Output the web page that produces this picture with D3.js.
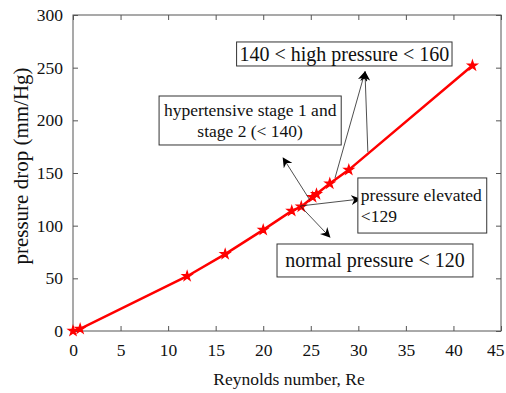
<!DOCTYPE html>
<html>
<head>
<meta charset="utf-8">
<script src="https://cdn.jsdelivr.net/npm/d3@7"></script>
<style>
  body { margin: 0; background: #fff; }
  text { font-family: "Liberation Serif", "Times New Roman", serif; fill: #111; }
</style>
</head>
<body>
<div id="chart"></div>
<script>
// data
var reynolds = [0, 0.75, 12, 16, 20, 23, 24, 25.2, 25.6, 27, 29, 42];
var pressureDrop = [0, 2, 52, 73, 96, 114, 118, 127, 130, 140, 153, 252];
var xTicks = [0, 5, 10, 15, 20, 25, 30, 35, 40, 45];
var yTicks = [0, 50, 100, 150, 200, 250, 300];

// annotation boxes (data coords: x0, y0 top, x1, y1 bottom) and their text
var boxLines = [
  ["140 < high pressure < 160"],
  ["hypertensive stage 1 and", "stage 2 (< 140)"],
  ["pressure elevated", "<129"],
  ["normal pressure < 120"]
];
var boxExtent = [
  [17.2, 274.4, 39.85, 251.6],
  [9.05, 223.1, 28.2, 176.6],
  [29.95, 145.3, 43.5, 93.0],
  [21.45, 82.6, 42.05, 51.3]
];
var boxAlign = ["middle", "middle", "start", "middle"];
var boxFont = [20, 17.5, 17.5, 20];

// arrows: [fromX, fromY, toX, toY] in data coords
var arrows = [
  [27.55, 145.3, 30.7, 246],
  [31.0, 170, 30.7, 246],
  [24.9, 124.4, 22.1, 164.2],
  [23.9, 118.7, 30.2, 125.3],
  [23.9, 118.7, 27.0, 89.2]
];

var W = 506, H = 393;
var margin = {top: 15, right: 5, bottom: 62, left: 73},
    width = W - margin.left - margin.right,
    height = H - margin.top - margin.bottom;

var svg = d3.select("#chart").append("svg")
    .attr("width", W).attr("height", H);

svg.append("defs").append("marker")
    .attr("id", "arr")
    .attr("viewBox", "0 0 10 10")
    .attr("refX", 9).attr("refY", 5)
    .attr("markerWidth", 10).attr("markerHeight", 10)
    .attr("markerUnits", "userSpaceOnUse")
    .attr("orient", "auto")
  .append("path")
    .attr("d", "M0,0 L10,5 L0,10 L3,5 Z")
    .attr("fill", "#000");

var g = svg.append("g").attr("transform", "translate(" + margin.left + "," + margin.top + ")");

var x = d3.scaleLinear().domain([0, 45]).range([0, width]);
var y = d3.scaleLinear().domain([0, 300]).range([height, 0]);

// box frame
g.append("rect")
    .attr("width", width).attr("height", height)
    .attr("fill", "none").attr("stroke", "#555").attr("stroke-width", 1);

var axisColor = "#555";
function styleAxis(sel, hideText) {
  sel.select(".domain").remove();
  sel.selectAll("line").attr("stroke", axisColor);
  sel.selectAll("text")
      .style("font-size", "17.5px")
      .style("font-family", "Liberation Serif, serif")
      .attr("fill", "#111");
  if (hideText) sel.selectAll("text").remove();
}

var xAxisG = g.append("g").attr("transform", "translate(0," + height + ")")
    .call(d3.axisBottom(x).tickValues(xTicks).tickSizeInner(-5).tickSizeOuter(0).tickPadding(13))
    .call(styleAxis, false);
// keep the last label inside the window, like the original
xAxisG.selectAll(".tick text").filter(function(d) { return d == 45; })
    .attr("text-anchor", "end").attr("dx", 3);

g.append("g")
    .call(d3.axisTop(x).tickValues(xTicks).tickSizeInner(-5).tickSizeOuter(0))
    .call(styleAxis, true);
g.append("g")
    .call(d3.axisLeft(y).tickValues(yTicks).tickSizeInner(-5).tickSizeOuter(0).tickPadding(10))
    .call(styleAxis, false);
g.append("g").attr("transform", "translate(" + width + ",0)")
    .call(d3.axisRight(y).tickValues(yTicks).tickSizeInner(-5).tickSizeOuter(0))
    .call(styleAxis, true);

// axis titles
svg.append("text")
    .attr("x", 289).attr("y", 385)
    .attr("text-anchor", "middle")
    .style("font-size", "17.5px")
    .text("Reynolds number, Re");

svg.append("text")
    .attr("transform", "translate(28,166) rotate(-90)")
    .attr("text-anchor", "middle")
    .style("font-size", "21px")
    .text("pressure drop (mm/Hg)");

// curve
var pts = reynolds.map(function(d, i) { return [d, pressureDrop[i]]; });
var line = d3.line().x(function(d) { return x(d[0]); }).y(function(d) { return y(d[1]); });

g.append("path")
    .datum(pts)
    .attr("d", line)
    .attr("fill", "none")
    .attr("stroke", "#ff0000")
    .attr("stroke-width", 2.5);

g.selectAll(".mk")
    .data(pts)
  .enter().append("path")
    .attr("class", "mk")
    .attr("transform", function(d) { return "translate(" + x(d[0]) + "," + y(d[1]) + ")"; })
    .attr("d", d3.symbol().type(d3.symbolStar).size(28))
    .attr("fill", "#ff0000")
    .attr("stroke", "#ff0000")
    .attr("stroke-width", 1.2);

// arrows
g.selectAll(".arrow")
    .data(arrows)
  .enter().append("line")
    .attr("class", "arrow")
    .attr("x1", function(d) { return x(d[0]); })
    .attr("y1", function(d) { return y(d[1]); })
    .attr("x2", function(d) { return x(d[2]); })
    .attr("y2", function(d) { return y(d[3]); })
    .attr("stroke", "#222")
    .attr("stroke-width", 0.8)
    .attr("marker-end", "url(#arr)");

// annotation boxes
boxExtent.forEach(function(b, i) {
  var x0 = x(b[0]), x1 = x(b[2]), y0 = y(b[1]), y1 = y(b[3]);
  var bg = g.append("g");
  bg.append("rect")
      .attr("x", x0).attr("y", y0)
      .attr("width", x1 - x0).attr("height", y1 - y0)
      .attr("fill", "#fff")
      .attr("stroke", "#333").attr("stroke-width", 1);
  var lines = boxLines[i];
  var fs = boxFont[i];
  var lh = fs * 1.22;
  var cy = (y0 + y1) / 2;
  var tx = boxAlign[i] == "middle" ? (x0 + x1) / 2 : x0 + 3;
  lines.forEach(function(t, j) {
    bg.append("text")
        .attr("x", tx)
        .attr("y", cy + (j - (lines.length - 1) / 2) * lh + fs * 0.33)
        .attr("text-anchor", boxAlign[i])
        .style("font-size", fs + "px")
        .text(t);
  });
});
</script>
</body>
</html>
